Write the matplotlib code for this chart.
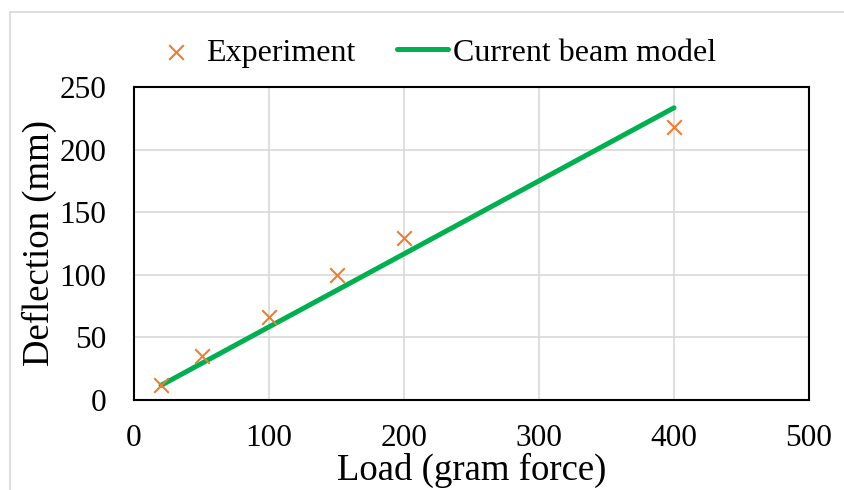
import matplotlib
matplotlib.use("Agg")
import matplotlib.pyplot as plt
from matplotlib.patches import Rectangle

loads = [20, 50, 100, 150, 200, 400]
experiment = [12, 35, 66, 100, 129, 218]
model_loads = [20, 50, 100, 150, 200, 400]
model = [11.7, 29.2, 58.4, 87.5, 116.7, 233.4]

xticks = [0, 100, 200, 300, 400, 500]
yticks = [0, 50, 100, 150, 200, 250]

plt.rcParams['font.family'] = ['Liberation Serif', 'DejaVu Serif']

fig = plt.figure(figsize=(8.44, 4.90), dpi=100)
fig.patches.append(Rectangle((10/844, -0.1), 1.2, 1.1 - 12/490, transform=fig.transFigure,
                             fill=False, edgecolor='#d9d9d9', linewidth=1.2))
ax = fig.add_axes([134/844, 1 - 400/490, 675/844, 313/490])

ax.plot(model_loads, model, color='#00B050', linewidth=3.6, solid_capstyle='round',
        label='Current beam model', zorder=3)
ax.scatter(loads, experiment, marker='x', s=110, color='#ED7D31', linewidths=1.5,
           label='Experiment', zorder=4)

ax.set_xlim(0, 500)
ax.set_ylim(0, 250)
ax.set_xticks(xticks)
ax.set_yticks(yticks)
ax.tick_params(axis='both', length=0, labelsize=22.5)
ax.tick_params(axis='x', pad=17)
ax.tick_params(axis='y', pad=20)
ax.grid(True, color='#d9d9d9', linewidth=1.2)
ax.set_axisbelow(True)
for s in ax.spines.values():
    s.set_linewidth(1.5)
    s.set_color('black')

ax.set_xlabel('Load (gram force)', fontsize=26.5, labelpad=0)
ax.set_ylabel('Deflection (mm)', fontsize=26.5, labelpad=2)

h, l = ax.get_legend_handles_labels()
fig.legend([h[1], h[0]], [l[1], l[0]], loc='center', bbox_to_anchor=(433/844, 1 - 53/490),
           ncol=2, frameon=False, fontsize=23, handlelength=1.6, handletextpad=0.15,
           columnspacing=1.3)

fig.savefig('out.png', dpi=100)
